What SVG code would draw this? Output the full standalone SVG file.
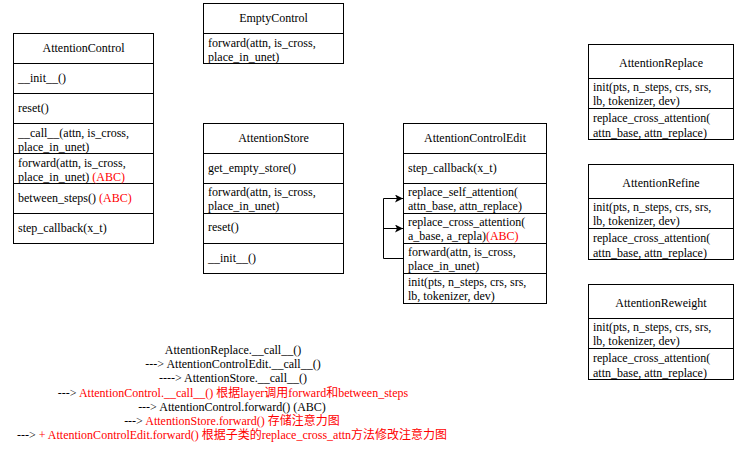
<svg xmlns="http://www.w3.org/2000/svg" width="737" height="462" viewBox="0 0 737 462">
<style>
text{font-family:"Liberation Serif","Noto Sans CJK SC",serif;font-size:12px;fill:#000}
.box{fill:#fff;stroke:#000;stroke-width:1}
.div{stroke:#000;stroke-width:1}
.t{text-anchor:middle}
.r{fill:#ff0000}
.c{text-anchor:middle}
.edge{fill:none;stroke:#000;stroke-width:1}
</style>
<defs>
<marker id="arr" markerUnits="userSpaceOnUse" markerWidth="10" markerHeight="10" refX="8" refY="4" orient="auto">
<path d="M0,0 L8,4 L0,8 L2,4 Z" fill="#000"/>
</marker>
</defs>
<rect width="737" height="462" fill="#fff"/>

<g id="AttentionControl">
<rect class="box" x="13.5" y="33.5" width="140" height="210"/>
<path class="div" d="M13.5 63.5H153.5M13.5 93.5H153.5M13.5 123.5H153.5M13.5 153.5H153.5M13.5 183.5H153.5M13.5 213.5H153.5"/>
<text class="t" x="83.5" y="52">AttentionControl</text>
<text x="18" y="82">__init__()</text>
<text x="18" y="112">reset()</text>
<text x="18" y="137">__call__(attn, is_cross,</text>
<text x="18" y="151">place_in_unet)</text>
<text x="18" y="167">forward(attn, is_cross,</text>
<text x="18" y="181">place_in_unet) <tspan class="r">(ABC)</tspan></text>
<text x="18" y="202">between_steps() <tspan class="r">(ABC)</tspan></text>
<text x="18" y="232">step_callback(x_t)</text>
</g>

<g id="EmptyControl">
<rect class="box" x="203.5" y="3.5" width="140" height="60"/>
<path class="div" d="M203.5 33.5H343.5"/>
<text class="t" x="273.5" y="22">EmptyControl</text>
<text x="208" y="47">forward(attn, is_cross,</text>
<text x="208" y="61">place_in_unet)</text>
</g>

<g id="AttentionStore">
<rect class="box" x="203.5" y="123.5" width="140" height="150"/>
<path class="div" d="M203.5 153.5H343.5M203.5 183.5H343.5M203.5 213.5H343.5M203.5 243.5H343.5"/>
<text class="t" x="273.5" y="142">AttentionStore</text>
<text x="208" y="172">get_empty_store()</text>
<text x="208" y="196">forward(attn, is_cross,</text>
<text x="208" y="210">place_in_unet)</text>
<text x="208" y="231">reset()</text>
<text x="208" y="262">__init__()</text>
</g>

<g id="AttentionControlEdit">
<rect class="box" x="403.5" y="123.5" width="143" height="180"/>
<path class="div" d="M403.5 153.5H546.5M403.5 183.5H546.5M403.5 213.5H546.5M403.5 243.5H546.5M403.5 273.5H546.5"/>
<text class="t" x="475" y="142">AttentionControlEdit</text>
<text x="408" y="172">step_callback(x_t)</text>
<text x="408" y="196">replace_self_attention(</text>
<text x="408" y="210">attn_base, attn_replace)</text>
<text x="408" y="226">replace_cross_attention(</text>
<text x="408" y="240">a_base, a_repla)<tspan class="r">(ABC)</tspan></text>
<text x="408" y="256">forward(attn, is_cross,</text>
<text x="408" y="270">place_in_unet)</text>
<text x="408" y="286">init(pts, n_steps, crs, srs,</text>
<text x="408" y="300">lb, tokenizer, dev)</text>
</g>

<g id="AttentionReplace">
<rect class="box" x="588.5" y="44.5" width="145" height="95"/>
<path class="div" d="M588.5 78.5H733.5M588.5 108.5H733.5"/>
<text class="t" x="661" y="67">AttentionReplace</text>
<text x="593" y="91">init(pts, n_steps, crs, srs,</text>
<text x="593" y="105">lb, tokenizer, dev)</text>
<text x="593" y="122">replace_cross_attention(</text>
<text x="593" y="137">attn_base, attn_replace)</text>
</g>

<g id="AttentionRefine">
<rect class="box" x="588.5" y="164.5" width="145" height="95"/>
<path class="div" d="M588.5 198.5H733.5M588.5 228.5H733.5"/>
<text class="t" x="661" y="187">AttentionRefine</text>
<text x="593" y="211">init(pts, n_steps, crs, srs,</text>
<text x="593" y="225">lb, tokenizer, dev)</text>
<text x="593" y="242">replace_cross_attention(</text>
<text x="593" y="257">attn_base, attn_replace)</text>
</g>

<g id="AttentionReweight">
<rect class="box" x="588.5" y="284.5" width="145" height="95"/>
<path class="div" d="M588.5 318.5H733.5M588.5 348.5H733.5"/>
<text class="t" x="661" y="307">AttentionReweight</text>
<text x="593" y="331">init(pts, n_steps, crs, srs,</text>
<text x="593" y="345">lb, tokenizer, dev)</text>
<text x="593" y="362">replace_cross_attention(</text>
<text x="593" y="377">attn_base, attn_replace)</text>
</g>

<g id="connectors">
<path class="edge" d="M403.5 258.5H383.5V198.5H403" marker-end="url(#arr)"/>
<path class="edge" d="M383.5 228.5H403" marker-end="url(#arr)"/>
</g>

<g id="callchain">
<text class="c" x="233" y="354">AttentionReplace.__call__()</text>
<text class="c" x="233" y="368">---&gt; AttentionControlEdit.__call__()</text>
<text class="c" x="233" y="382">----&gt; AttentionStore.__call__()</text>
<text class="c" x="233" y="397">---&gt; <tspan class="r">AttentionControl.__call__() 根据layer调用forward和between_steps</tspan></text>
<text class="c" x="232" y="411">---&gt; AttentionControl.forward() (ABC)</text>
<text class="c" x="232" y="425">---&gt; <tspan class="r">AttentionStore.forward() 存储注意力图</tspan></text>
<text class="c" x="232" y="439">---&gt; <tspan class="r">+ AttentionControlEdit.forward() 根据子类的replace_cross_attn方法修改注意力图</tspan></text>
</g>
</svg>
